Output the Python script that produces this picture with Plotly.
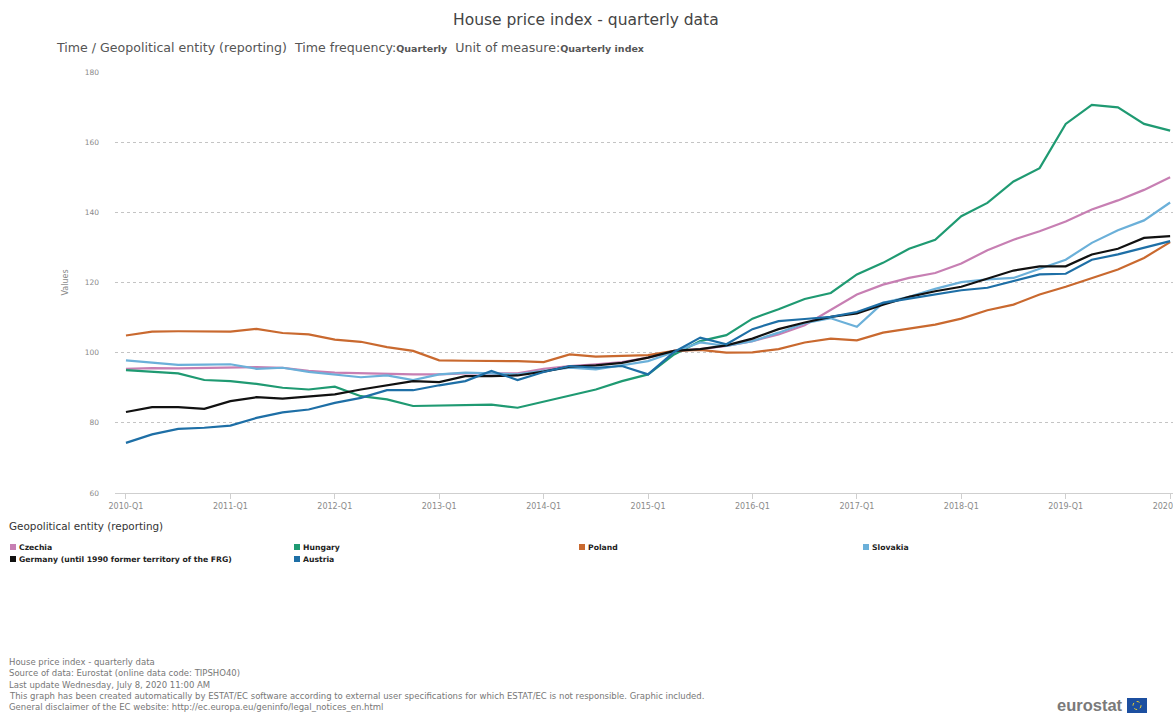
import plotly.graph_objects as go

quarters = [
    "2010-Q1", "2010-Q2", "2010-Q3", "2010-Q4", "2011-Q1", "2011-Q2", "2011-Q3", "2011-Q4",
    "2012-Q1", "2012-Q2", "2012-Q3", "2012-Q4", "2013-Q1", "2013-Q2", "2013-Q3", "2013-Q4",
    "2014-Q1", "2014-Q2", "2014-Q3", "2014-Q4", "2015-Q1", "2015-Q2", "2015-Q3", "2015-Q4",
    "2016-Q1", "2016-Q2", "2016-Q3", "2016-Q4", "2017-Q1", "2017-Q2", "2017-Q3", "2017-Q4",
    "2018-Q1", "2018-Q2", "2018-Q3", "2018-Q4", "2019-Q1", "2019-Q2", "2019-Q3", "2019-Q4",
    "2020-Q1",
]
tick_labels = ["2010-Q1", "2011-Q1", "2012-Q1", "2013-Q1", "2014-Q1", "2015-Q1",
               "2016-Q1", "2017-Q1", "2018-Q1", "2019-Q1", "2020-Q1"]

czechia = [95.4, 95.6, 95.5, 95.6, 95.7, 95.9, 95.7, 94.8, 94.3, 94.1, 94.0, 93.8, 93.8, 94.1, 94.1, 94.1, 95.4,
           96.2, 96.7, 97.3, 98.6, 100.5, 101.0, 101.9, 103.3, 105.2, 107.8, 112.3, 116.6, 119.4, 121.3, 122.7,
           125.4, 129.2, 132.2, 134.6, 137.4, 140.8, 143.4, 146.4, 150.0]
hungary = [95.0, 94.5, 94.1, 92.2, 91.9, 91.1, 90.0, 89.5, 90.3, 87.6, 86.7, 84.8, 85.0, 85.2, 85.2, 84.3, 86.0,
           87.6, 89.5, 91.9, 93.8, 99.5, 103.3, 105.0, 109.7, 112.4, 115.3, 117.0, 122.3, 125.6, 129.6, 132.2,
           138.9, 142.7, 148.8, 152.6, 165.2, 170.6, 169.9, 165.2, 163.3]
poland = [104.9, 106.0, 106.1, 106.0, 106.0, 106.8, 105.6, 105.2, 103.7, 103.1, 101.6, 100.5, 97.8, 97.7, 97.7, 97.6, 97.3,
          99.5, 98.9, 99.1, 99.3, 100.5, 100.8, 100.0, 100.1, 101.0, 102.9, 104.0, 103.5, 105.7, 106.8, 108.0,
          109.7, 112.1, 113.7, 116.6, 118.8, 121.3, 123.7, 127.0, 131.5]
slovakia = [97.8, 97.1, 96.5, 96.6, 96.7, 95.4, 95.7, 94.5, 93.8, 93.0, 93.5, 92.2, 93.8, 94.3, 94.1, 93.8, 94.8,
            95.7, 95.2, 96.4, 97.6, 100.2, 102.9, 101.9, 103.3, 105.7, 108.4, 109.8, 107.4, 114.2, 115.9, 118.2,
            120.1, 120.9, 121.3, 123.9, 126.5, 131.3, 134.9, 137.7, 142.8]
germany = [83.1, 84.5, 84.5, 84.0, 86.2, 87.3, 86.9, 87.6, 88.1, 89.5, 90.7, 91.9, 91.6, 93.3, 93.3, 93.5, 94.6,
           96.0, 96.4, 97.1, 98.6, 100.5, 101.0, 102.1, 104.0, 106.7, 108.6, 110.2, 111.2, 113.7, 115.9, 117.5,
           118.8, 121.0, 123.4, 124.6, 124.6, 128.0, 129.6, 132.7, 133.2]
austria = [74.3, 76.7, 78.3, 78.6, 79.2, 81.4, 83.0, 83.8, 85.7, 87.1, 89.3, 89.3, 90.7, 91.9, 94.8, 92.2, 94.5,
           96.2, 95.7, 96.2, 93.8, 100.2, 104.3, 102.4, 106.7, 109.0, 109.6, 110.2, 111.6, 114.2, 115.4, 116.6,
           117.8, 118.5, 120.4, 122.3, 122.5, 126.5, 128.0, 129.9, 131.8]

series_names = ["Czechia", "Hungary", "Poland", "Slovakia",
                "Germany (until 1990 former territory of the FRG)", "Austria"]
series_values = [czechia, hungary, poland, slovakia, germany, austria]
series_colors = ["#c77fb3", "#1f9a72", "#c9692f", "#6bb0d9", "#111111", "#1e6fa6"]

footer_lines = [
    "House price index - quarterly data",
    "Source of data: Eurostat (online data code: TIPSHO40)",
    "Last update Wednesday, July 8, 2020 11:00 AM",
    "This graph has been created automatically by ESTAT/EC software according to external user specifications for which ESTAT/EC is not responsible. Graphic included.",
    "General disclaimer of the EC website: http://ec.europa.eu/geninfo/legal_notices_en.html",
]

W, H = 1173, 713
L, R, T, B = 115, 0, 72, 220
PW, PH = W - L - R, H - T - B


def px(x):
    return (x - L) / PW


def py(y):
    return (H - B - y) / PH


fig = go.Figure()
for name, vals, col in zip(series_names, series_values, series_colors):
    fig.add_trace(go.Scatter(x=quarters, y=vals, mode="lines", name=name,
                             line=dict(color=col, width=2.2), showlegend=False))

FONT = "DejaVu Sans, sans-serif"
ann = []
shapes = []

# title and subtitle
ann.append(dict(text="House price index - quarterly data", x=px(586), y=py(20), xref="paper", yref="paper",
                showarrow=False, xanchor="center", yanchor="middle",
                font=dict(family=FONT, size=15.5, color="#444")))
ann.append(dict(text="Time / Geopolitical entity (reporting)  Time frequency:<span style='font-size:9.5px'><b>Quarterly</b></span>"
                     "  Unit of measure:<span style='font-size:9.5px'><b>Quarterly index</b></span>",
                x=px(54), y=py(47), xref="paper", yref="paper", showarrow=False,
                xanchor="left", yanchor="middle", font=dict(family=FONT, size=12.6, color="#555")))

# legend (manual grid)
ann.append(dict(text="Geopolitical entity (reporting)", x=px(7), y=py(526), xref="paper", yref="paper",
                showarrow=False, xanchor="left", yanchor="middle",
                font=dict(family=FONT, size=10.4, color="#333")))
col_x = [10, 294, 579, 863]
row_y = [547, 559]
for k, (name, col) in enumerate(zip(series_names, series_colors)):
    cx = col_x[k % 4]
    cy = row_y[k // 4]
    shapes.append(dict(type="rect", xref="paper", yref="paper",
                       x0=px(cx), x1=px(cx + 6), y0=py(cy + 3), y1=py(cy - 3),
                       fillcolor=col, line=dict(width=0)))
    ann.append(dict(text="<b>" + name + "</b>", x=px(cx + 7), y=py(cy), xref="paper", yref="paper",
                    showarrow=False, xanchor="left", yanchor="middle",
                    font=dict(family=FONT, size=7.7, color="#222")))

# footer
for j, line in enumerate(footer_lines):
    ann.append(dict(text=line, x=px(7), y=py(662 + j * 11.3), xref="paper", yref="paper",
                    showarrow=False, xanchor="left", yanchor="middle",
                    font=dict(family=FONT, size=8.5, color="#777")))

# eurostat logo
ann.append(dict(text="<b>eurostat</b>", x=px(1125), y=py(705), xref="paper", yref="paper",
                showarrow=False, xanchor="right", yanchor="middle",
                font=dict(family="Liberation Sans, Arial, sans-serif", size=16.5, color="#7a7a7a")))
shapes.append(dict(type="rect", xref="paper", yref="paper", x0=px(1127), x1=px(1147),
                   y0=py(713), y1=py(698), fillcolor="#1c4fa0", line=dict(width=0)))
shapes.append(dict(type="circle", xref="paper", yref="paper", x0=px(1133), x1=px(1141),
                   y0=py(709.5), y1=py(701.5), fillcolor="rgba(0,0,0,0)",
                   line=dict(width=1, color="#f3d32a", dash="dot")))

fig.update_layout(
    width=W, height=H,
    margin=dict(l=L, r=R, t=T, b=B, pad=0, autoexpand=False),
    paper_bgcolor="white", plot_bgcolor="white",
    font=dict(family=FONT, color="#888"),
    annotations=ann, shapes=shapes,
    showlegend=False,
)
fig.update_xaxes(type="category", range=[-0.42, 40.11], tickmode="array",
                 tickvals=tick_labels, ticktext=tick_labels, automargin=False,
                 showgrid=False, showline=True, linecolor="#cfcfcf", linewidth=1,
                 ticks="outside", ticklen=5, tickcolor="#cfcfcf",
                 tickfont=dict(size=8, color="#8a8a8a"), zeroline=False)
fig.update_yaxes(range=[60, 180], tickvals=[60, 80, 100, 120, 140, 160, 180], automargin=False,
                 showgrid=True, gridcolor="#c4c4c4", griddash="dot", gridwidth=1,
                 zeroline=False, showline=False, ticks="", ticklabelstandoff=15,
                 tickfont=dict(size=7.5, color="#8a8a8a"),
                 title=dict(text="Values", font=dict(size=8, color="#8a8a8a"), standoff=14))

fig.write_html("out.html", config={"displayModeBar": False},
               post_script="document.body.style.margin='0';document.body.style.overflow='hidden';")
